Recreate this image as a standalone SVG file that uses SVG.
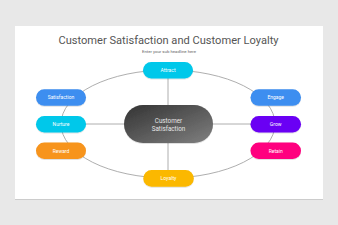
<svg xmlns="http://www.w3.org/2000/svg" width="338" height="225" viewBox="0 0 338 225">
<defs>
<linearGradient id="cg" x1="0" y1="0" x2="1" y2="1">
<stop offset="0" stop-color="#333333"/>
<stop offset="1" stop-color="#808080"/>
</linearGradient>
<filter id="sh" x="-20%" y="-20%" width="140%" height="160%">
<feDropShadow dx="0" dy="0.6" stdDeviation="0.6" flood-color="#000" flood-opacity="0.2"/>
</filter>
<style>
.t{font-family:Roboto,"Liberation Sans",sans-serif;}
.n{font-family:Roboto,"Liberation Sans",sans-serif;font-size:5px;fill:#ffffff;text-anchor:middle;}
.c{stroke:#999999;stroke-width:0.8;fill:none;}
</style>
</defs>
<rect x="0" y="0" width="338" height="225" fill="#e8e8e8"/>
<rect x="15" y="26" width="308" height="173" fill="#ffffff" filter="url(#sh)"/>
<text class="t" x="168.5" y="44.3" font-size="11.1" fill="#555555" text-anchor="middle">Customer Satisfaction and Customer Loyalty</text>
<text class="t" x="169" y="52.7" font-size="4.3" fill="#666666" text-anchor="middle">Enter your sub headline here</text>
<g id="connectors">
<ellipse class="c" cx="168" cy="124" rx="107" ry="54"/>
<line class="c" x1="168" y1="70" x2="168" y2="178"/>
<line class="c" x1="61" y1="124" x2="275" y2="124"/>
</g>
<g id="center">
<rect x="124" y="105" width="89" height="38" rx="19" fill="url(#cg)" filter="url(#sh)"/>
<text class="t" x="168.5" y="123" font-size="6.3" fill="#e6e6e6" text-anchor="middle">Customer</text>
<text class="t" x="168.5" y="130.5" font-size="6.3" fill="#e6e6e6" text-anchor="middle">Satisfaction</text>
</g>
<g id="attract"><rect x="143" y="62" width="50" height="16.5" rx="8.25" fill="#00c8ea" filter="url(#sh)"/><text class="n" x="168" y="72">Attract</text></g>
<g id="satisfaction"><rect x="36" y="89.3" width="50" height="16.5" rx="8.25" fill="#3d8ef0" filter="url(#sh)"/><text class="n" x="61" y="99.3">Satisfaction</text></g>
<g id="nurture"><rect x="36" y="116" width="50" height="16.5" rx="8.25" fill="#00c8ea" filter="url(#sh)"/><text class="n" x="61" y="126">Nurture</text></g>
<g id="reward"><rect x="36" y="142.5" width="50" height="16.5" rx="8.25" fill="#f7941d" filter="url(#sh)"/><text class="n" x="61" y="152.5">Reward</text></g>
<g id="engage"><rect x="250.5" y="89.3" width="50.5" height="16.5" rx="8.25" fill="#3d8ef0" filter="url(#sh)"/><text class="n" x="275.7" y="99.3">Engage</text></g>
<g id="grow"><rect x="250.5" y="116" width="50.5" height="16.5" rx="8.25" fill="#6a00f4" filter="url(#sh)"/><text class="n" x="275.7" y="126">Grow</text></g>
<g id="retain"><rect x="250.5" y="142.5" width="50.5" height="16.5" rx="8.25" fill="#ff007f" filter="url(#sh)"/><text class="n" x="275.7" y="152.5">Retain</text></g>
<g id="loyalty"><rect x="143.3" y="170" width="50.5" height="16.7" rx="8.3" fill="#fbb800" filter="url(#sh)"/><text class="n" x="168.5" y="180.1">Loyalty</text></g>
</svg>
